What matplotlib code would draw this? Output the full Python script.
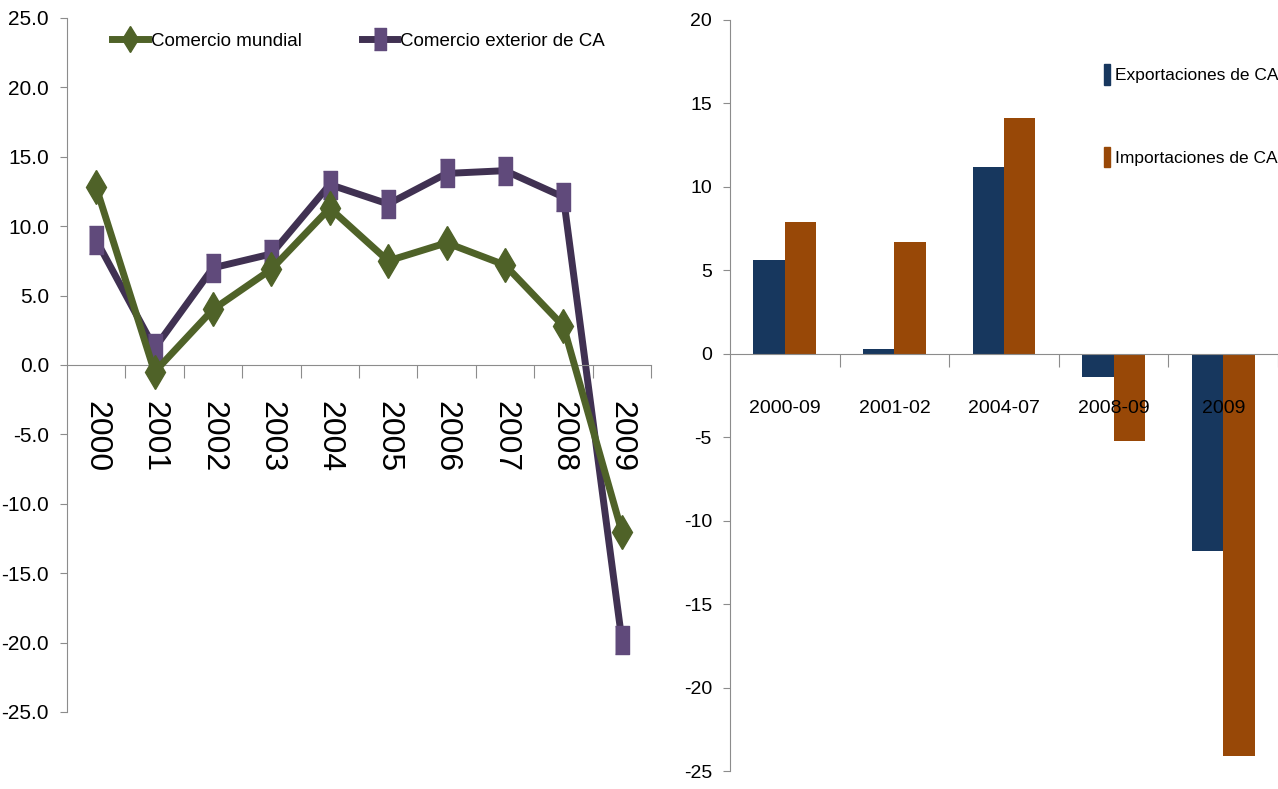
import numpy as np
import matplotlib.pyplot as plt
from matplotlib.patches import Patch

# Left chart: yearly growth (%)
years = ['2000', '2001', '2002', '2003', '2004', '2005', '2006', '2007', '2008', '2009']
comercio_mundial = [12.8, -0.5, 4.0, 6.9, 11.3, 7.5, 8.8, 7.2, 2.8, -12.0]
comercio_ca = [9.0, 1.2, 7.0, 8.0, 13.0, 11.6, 13.8, 14.0, 12.1, -19.8]
left_ticks = [25, 20, 15, 10, 5, 0, -5, -10, -15, -20, -25]

# Right chart: growth by period (%)
periodos = ['2000-09', '2001-02', '2004-07', '2008-09', '2009']
exportaciones = [5.6, 0.3, 11.2, -1.4, -11.8]
importaciones = [7.9, 6.7, 14.1, -5.2, -24.1]
right_ticks = [20, 15, 10, 5, 0, -5, -10, -15, -20, -25]

FONT = ['Liberation Sans', 'DejaVu Sans']
GRAY = '#8c8c8c'
GREEN = '#4f6228'
PURPLE_LINE = '#403152'
PURPLE_MARK = '#604a7b'
BLUE = '#17375e'
ORANGE = '#984807'


def style_axis(ax, ticks, fmt, size):
    for side in ['top', 'right']:
        ax.spines[side].set_visible(False)
    ax.spines['left'].set_color(GRAY)
    ax.spines['bottom'].set_color(GRAY)
    ax.spines['bottom'].set_position(('data', 0))
    ax.set_yticks(ticks)
    ax.set_yticklabels([fmt.format(t) for t in ticks], family=FONT, fontsize=size)
    ax.tick_params(axis='y', color=GRAY, length=5, pad=8)


def main():
    fig = plt.figure(figsize=(12.78, 7.89), dpi=100)

    # ---- left: line chart
    ax1 = fig.add_axes([0.0524, 0.0976, 0.457, 0.8796])
    x = np.arange(len(years))
    rect = [(-0.5, -1), (0.5, -1), (0.5, 1), (-0.5, 1)]
    ax1.plot(x, comercio_mundial, color=GREEN, lw=5, marker='d', markersize=17,
             label='Comercio mundial', zorder=3)
    ax1.plot(x, comercio_ca, color=PURPLE_LINE, lw=5, marker=rect, markersize=20,
             markerfacecolor=PURPLE_MARK, markeredgecolor=PURPLE_MARK,
             label='Comercio exterior de CA', zorder=2)
    ax1.set_xlim(-0.5, len(years) - 0.5)
    ax1.set_ylim(-25, 25)
    style_axis(ax1, left_ticks, '{:.1f}', 15)
    ax1.set_xticks(np.arange(len(years)) + 0.5)
    ax1.set_xticklabels([])
    ax1.set_xticks(x, minor=True)
    ax1.set_xticklabels(years, minor=True, rotation=-90, family=FONT, fontsize=23)
    ax1.tick_params(axis='x', which='major', color=GRAY, length=9, direction='out')
    ax1.tick_params(axis='x', which='minor', length=0, pad=26)
    ax1.legend(loc='upper left', bbox_to_anchor=(0.065, 0.99), ncol=2, frameon=False,
               borderaxespad=0, handlelength=1.9, handletextpad=0.15, markerscale=0.8,
               columnspacing=3.2, prop={'family': FONT, 'size': 13.5})

    # ---- right: bar chart
    ax2 = fig.add_axes([0.5712, 0.0228, 0.4288, 0.9519])
    xb = np.arange(len(periodos))
    w = 0.286
    ax2.bar(xb - w / 2, exportaciones, w, color=BLUE, label='Exportaciones de CA')
    ax2.bar(xb + w / 2, importaciones, w, color=ORANGE, label='Importaciones de CA')
    ax2.set_xlim(-0.5, len(periodos) - 0.5)
    ax2.set_ylim(-25, 20)
    style_axis(ax2, right_ticks, '{:d}', 14)
    ax2.set_xticks(np.arange(len(periodos)) + 0.5)
    ax2.set_xticklabels([])
    ax2.set_xticks(xb, minor=True)
    ax2.set_xticklabels(periodos, minor=True, family=FONT, fontsize=14)
    ax2.tick_params(axis='x', which='major', color=GRAY, length=9, direction='out')
    ax2.tick_params(axis='x', which='minor', length=0, pad=33)
    handles = [Patch(color=BLUE), Patch(color=ORANGE)]
    ax2.legend(handles, ['Exportaciones de CA', 'Importaciones de CA'],
               loc='upper left', bbox_to_anchor=(0.67, 0.95), frameon=False,
               borderaxespad=0, handlelength=0.35, handleheight=1.4, handletextpad=0.3,
               labelspacing=3.6, prop={'family': FONT, 'size': 12.5})

    fig.savefig('out.png', dpi=100)
    plt.close(fig)


if __name__ == '__main__':
    main()
